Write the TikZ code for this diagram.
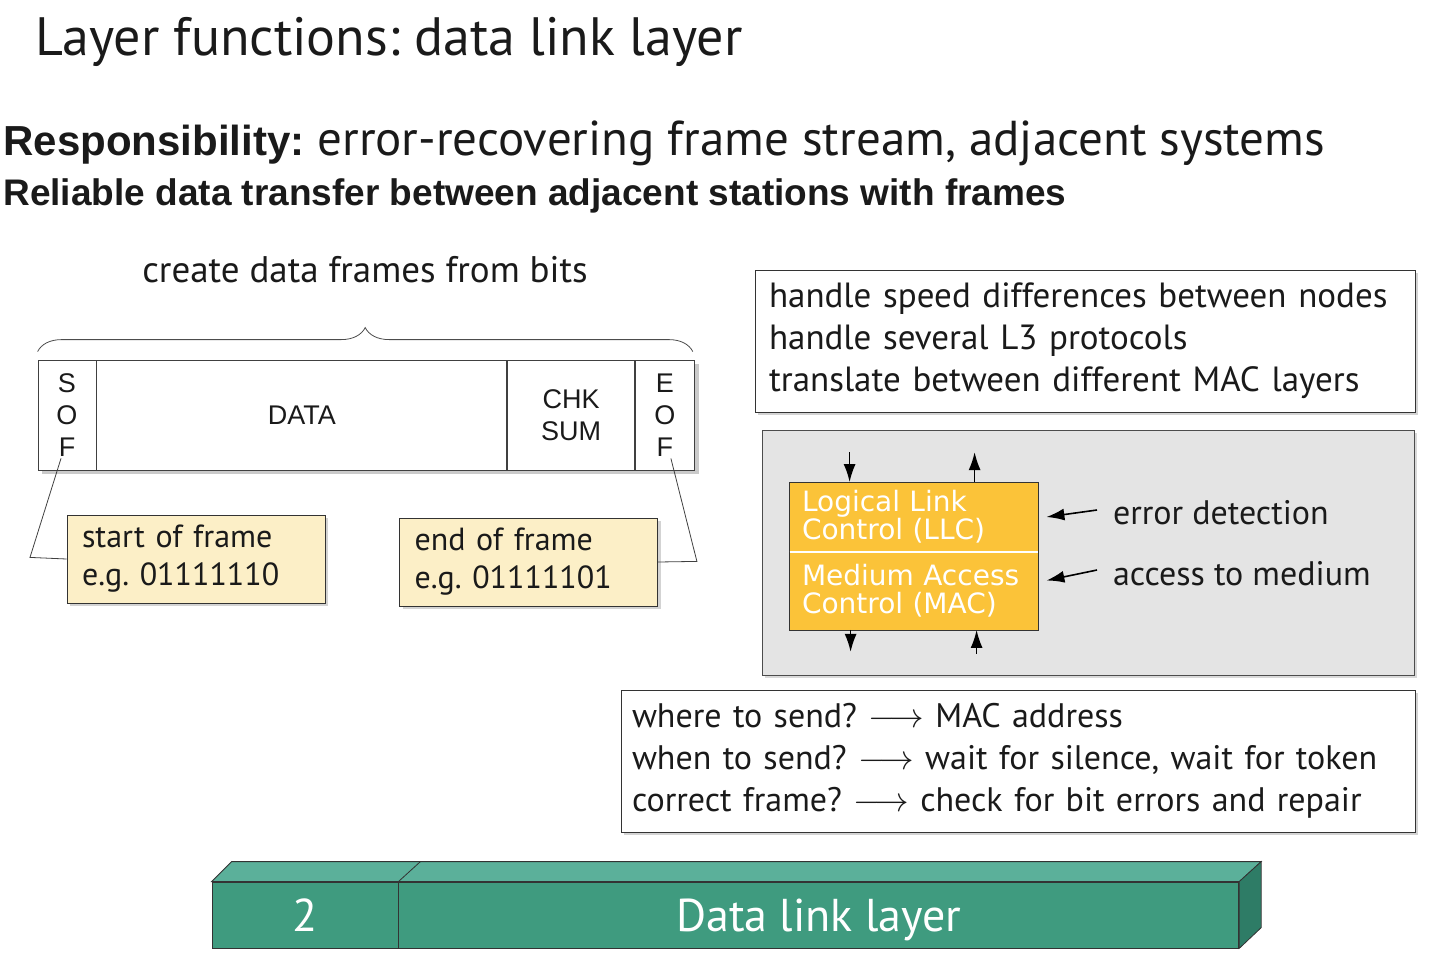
\documentclass[tikz,border=0pt]{standalone}
\usepackage{fontspec}
\setmainfont{PT Sans}
\newfontfamily\arialfont{Liberation Sans}
\newfontfamily\verdfont{DejaVu Sans}
\usepackage{tikz}
\usetikzlibrary{arrows.meta, positioning, backgrounds, calc, shadows, decorations.pathreplacing}

\definecolor{notefill}{HTML}{FCEFC7}
\definecolor{llcorange}{HTML}{FBC339}
\definecolor{panelgray}{HTML}{E4E4E4}
\definecolor{barfront}{HTML}{3F9B7F}
\definecolor{bartop}{HTML}{5BB09A}
\definecolor{barside}{HTML}{2E7C66}
\definecolor{ink}{HTML}{1A1A1A}
\frenchspacing

\begin{document}
\begin{tikzpicture}[x=0.5pt, y=-0.5pt, text=ink,
      heading/.style={anchor=base west, inner sep=0pt},
      field/.style={draw=black!75, fill=white, minimum height=55pt, inner sep=0pt,
                    align=center, font=\arialfont\fontsize{13.5}{16}\selectfont},
      note/.style={draw=black!80, fill=notefill, minimum height=44pt, text width=114pt,
                   inner xsep=7.5pt, align=left, font=\fontsize{16}{19}\selectfont,
                   drop shadow={shadow xshift=1.5pt, shadow yshift=-1.5pt, opacity=0.35}},
      infobox/.style={draw=black!80, fill=white, minimum height=71pt, inner xsep=7pt,
                      align=left, font=\fontsize{17.5}{21}\selectfont,
                      drop shadow={shadow xshift=1.5pt, shadow yshift=-1.5pt, opacity=0.35}},
      sublayer/.style={fill=llcorange, text width=112pt, inner xsep=6pt, align=left,
                       text=white, font=\verdfont\fontsize{14}{14}\selectfont},
      barface/.style={draw=black!80, fill=barfront, minimum height=33pt, inner sep=0pt,
                      text depth=0pt, text=white, font=\fontsize{23}{26}\selectfont},
      arr/.style={-{Latex[length=9pt,width=6pt]}, thick}]

    \useasboundingbox (0,0) rectangle (1439,975);

    % headings
    \node[heading, font=\fontsize{27}{30}\selectfont] (title) at (35,55)
          {Layer functions: data link layer};
    \node[heading, font=\fontsize{24.5}{28}\selectfont] (resp) at (3,155)
          {{\arialfont\bfseries\fontsize{21}{28}\selectfont Responsibility:} error-recovering frame stream, adjacent systems};
    \node[heading, font=\arialfont\bfseries\fontsize{18.5}{22}\selectfont] (reliable) at (3,205)
          {Reliable data transfer between adjacent stations with frames};

    % frame layout
    \node[field, minimum width=29pt] (sof) at (67,415) {S\\O\\F};
    \node[field, minimum width=205pt, right=0pt of sof] (data) {DATA};
    \node[field, minimum width=63.5pt, right=0pt of data] (chk) {CHK\\SUM};
    \node[field, minimum width=29.5pt, right=0pt of chk] (eof) {E\\O\\F};
    \begin{scope}[on background layer]
      \fill[black!35, opacity=0.6] ($(sof.north west)+(4,4)$) rectangle ($(eof.south east)+(4,4)$);
    \end{scope}

    \draw[black!70, decorate, decoration={brace, amplitude=12pt, aspect=0.5}]
          ($(sof.north west)+(0,-8)$) -- ($(eof.north east)+(-2,-8)$);
    \node[font=\fontsize{18.5}{20}\selectfont] (bracelbl) at (365,270) {create data frames from bits};

    \node[note] (sofnote) at (196,559) {start of frame\\e.g. 01111110};
    \node[note] (eofnote) at (528.5,562) {end of frame\\e.g. 01111101};
    \draw[black!75] ($(sof.south)+(-6,-12)$) -- ++(-31,99) -- (sofnote.west);
    \draw[black!75] ($(eof.south)+(6,-12)$) -- ++(26,103) -- (eofnote.east);

    % sublayers
    \node[infobox, text width=316pt] (tasks) at (1085,341)
          {handle speed differences between nodes\\handle several L3 protocols\\translate between different MAC layers};

    \node[draw=black!70, fill=panelgray, minimum width=326pt, minimum height=122.5pt,
          drop shadow={shadow xshift=1.5pt, shadow yshift=-1.5pt, opacity=0.3}] (panel) at (1088,552.5) {};
    \node[sublayer, minimum height=34.5pt] (llc) at (914,517) {Logical Link\\Control (LLC)};
    \node[sublayer, minimum height=39pt] (mac) at (914,590.5) {Medium Access\\Control (MAC)};
    \draw[black!80] (llc.north west) rectangle (mac.south east);
    \draw[white, thick] (llc.south west) -- (llc.south east);

    \draw[arr] ($(llc.north west)+(60,-30)$) -- ($(llc.north west)+(60,0)$);
    \draw[arr] ($(llc.north west)+(185,0)$) -- ($(llc.north west)+(185,-30)$);
    \draw[arr] ($(mac.south west)+(61,0)$) -- ($(mac.south west)+(61,22)$);
    \draw[arr] ($(mac.south west)+(187,24)$) -- ($(mac.south west)+(187,0)$);

    \node[anchor=west, font=\fontsize{17}{21}\selectfont] (errdet) at (1106,513) {error detection};
    \node[anchor=west, font=\fontsize{17}{21}\selectfont] (medium) at (1106,574) {access to medium};
    \draw[arr] ($(errdet.west)+(-9,-3)$) -- ($(llc.east)+(8,0)$);
    \draw[arr] ($(medium.west)+(-9,-4)$) -- ($(mac.east)+(8,-10)$);

    \node[infobox, text width=386pt, inner xsep=5.5pt, font=\fontsize{17}{21}\selectfont] (access) at (1018,761)
          {where to send? $\longrightarrow$ MAC address\\
           when to send? $\longrightarrow$ wait for silence, wait for token\\
           correct frame? $\longrightarrow$ check for bit errors and repair};

    % layer bar
    \node[barface, minimum width=93pt] (num) at (305,915) {2};
    \node[barface, minimum width=420pt, right=0pt of num] (dll) {Data link layer};
    \filldraw[fill=bartop, draw=black!80] (num.north west) -- ++(20,-20)
          -- ($(dll.north east)+(22,-20)$) -- (dll.north east) -- cycle;
    \draw[black!80] (num.north east) -- ++(22,-20);
    \filldraw[fill=barside, draw=black!80] (dll.north east) -- ++(22,-20) -- ++(0,66)
          -- (dll.south east) -- cycle;
  \end{tikzpicture}
\end{document}
